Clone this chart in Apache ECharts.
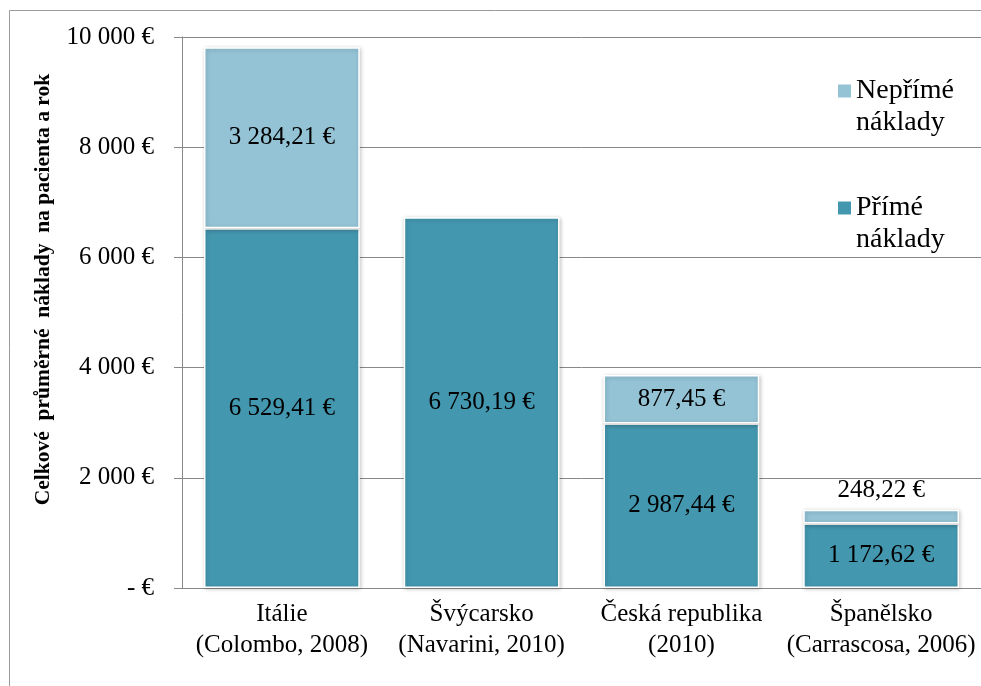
<!DOCTYPE html>
<html>
<head>
<meta charset="utf-8">
<script src="https://cdn.jsdelivr.net/npm/echarts@6/dist/echarts.min.js"></script>
<style>
  html, body { margin: 0; padding: 0; background: #fff; }
  #chart { width: 981px; height: 686px; }
</style>
</head>
<body>
<div id="chart"></div>
<script>
// Average yearly cost per patient, split into direct and indirect costs
const categories = [
  'Itálie\n(Colombo, 2008)',
  'Švýcarsko\n(Navarini, 2010)',
  'Česká republika\n(2010)',
  'Španělsko\n(Carrascosa, 2006)'
];
const directCosts = [6529.41, 6730.19, 2987.44, 1172.62];
const indirectCosts = [3284.21, null, 877.45, 248.22];
const yTicks = [0, 2000, 4000, 6000, 8000, 10000];

const FONT = '"Liberation Serif", "Times New Roman", serif';
const DIRECT_COLOR = '#4397af';
const INDIRECT_COLOR = '#93c3d5';
const GRID_COLOR = '#888888';

// Czech-style number: space as thousands separator, comma as decimal mark
function groupThousands(intStr) {
  return intStr.replace(/\B(?=(\d{3})+(?!\d))/g, ' ');
}
function euro(v, decimals) {
  const parts = v.toFixed(decimals).split('.');
  let s = groupThousands(parts[0]);
  if (parts.length > 1) s += ',' + parts[1];
  return s + ' €';
}
function tickLabel(v) {
  return v === 0 ? '- €' : groupThousands(String(v)) + ' €';
}

const chart = echarts.init(document.getElementById('chart'), null, { renderer: 'canvas' });

const barStyle = (color) => ({
  color: color,
  borderColor: '#ffffff',
  borderWidth: 1.5,
  shadowColor: 'rgba(0,0,0,0.22)',
  shadowBlur: 4,
  shadowOffsetX: 1,
  shadowOffsetY: 1
});

const labelBase = {
  show: true,
  fontFamily: FONT,
  fontSize: 25,
  color: '#000000',
  formatter: (p) => (p.value == null ? '' : euro(p.value, 2))
};

// Legend marker: a small square aligned with the first of two text lines
const LEGEND_LINE = 32;
const legendIcon = 'path://M0,9.5L13,9.5L13,22.5L0,22.5Z M0,0L0,0 M0,64L0,64';

function legendFor(name, top) {
  return {
    data: [name],
    left: 833,
    top: top,
    orient: 'vertical',
    icon: legendIcon,
    itemWidth: 13,
    itemHeight: LEGEND_LINE * 2,
    itemStyle: { borderWidth: 0, shadowBlur: 0 },
    formatter: (n) => n.replace(' ', '\n'),
    textStyle: {
      fontFamily: FONT,
      fontSize: 28,
      color: '#000000',
      lineHeight: LEGEND_LINE
    }
  };
}

chart.setOption({
  animation: false,
  backgroundColor: '#ffffff',
  graphic: [{
    type: 'rect',
    silent: true,
    shape: { x: 9.5, y: 10.5, width: 1200, height: 900 },
    style: { fill: 'none', stroke: '#9a9a9a', lineWidth: 1 }
  }],
  grid: { left: 182, top: 37, width: 802, height: 551, containLabel: false },
  legend: [legendFor('Nepřímé náklady', 70), legendFor('Přímé náklady', 187)],
  xAxis: {
    type: 'category',
    data: categories,
    axisLine: { show: true, lineStyle: { color: GRID_COLOR, width: 1 } },
    axisTick: { show: false },
    axisLabel: {
      fontFamily: FONT,
      fontSize: 25,
      color: '#000000',
      lineHeight: 31,
      margin: 11,
      interval: 0
    }
  },
  yAxis: {
    type: 'value',
    min: yTicks[0],
    max: yTicks[yTicks.length - 1],
    interval: yTicks[1] - yTicks[0],
    name: 'Celkové  průměrné  náklady  na pacienta a rok',
    nameLocation: 'middle',
    nameGap: 128,
    nameRotate: 90,
    nameTextStyle: {
      fontFamily: FONT,
      fontSize: 21.5,
      fontWeight: 'bold',
      color: '#000000',
      padding: [0, 0, 0, 46]
    },
    axisLine: { show: true, lineStyle: { color: GRID_COLOR, width: 1 } },
    axisTick: { show: true, length: 8, lineStyle: { color: GRID_COLOR } },
    splitLine: { show: true, lineStyle: { color: GRID_COLOR, width: 1 } },
    axisLabel: {
      fontFamily: FONT,
      fontSize: 25,
      color: '#000000',
      margin: 28,
      formatter: tickLabel
    }
  },
  series: [{
    name: 'Přímé náklady',
    type: 'bar',
    stack: 'costs',
    data: directCosts,
    barCategoryGap: '22%',
    itemStyle: barStyle(DIRECT_COLOR),
    label: Object.assign({ position: 'inside' }, labelBase)
  }, {
    name: 'Nepřímé náklady',
    type: 'bar',
    stack: 'costs',
    data: indirectCosts.map((v, i) => ({
      value: v,
      label: i === 3 ? { position: 'top', distance: 7 } : undefined
    })),
    barCategoryGap: '22%',
    itemStyle: barStyle(INDIRECT_COLOR),
    label: Object.assign({ position: 'inside' }, labelBase)
  }]
});
</script>
</body>
</html>
